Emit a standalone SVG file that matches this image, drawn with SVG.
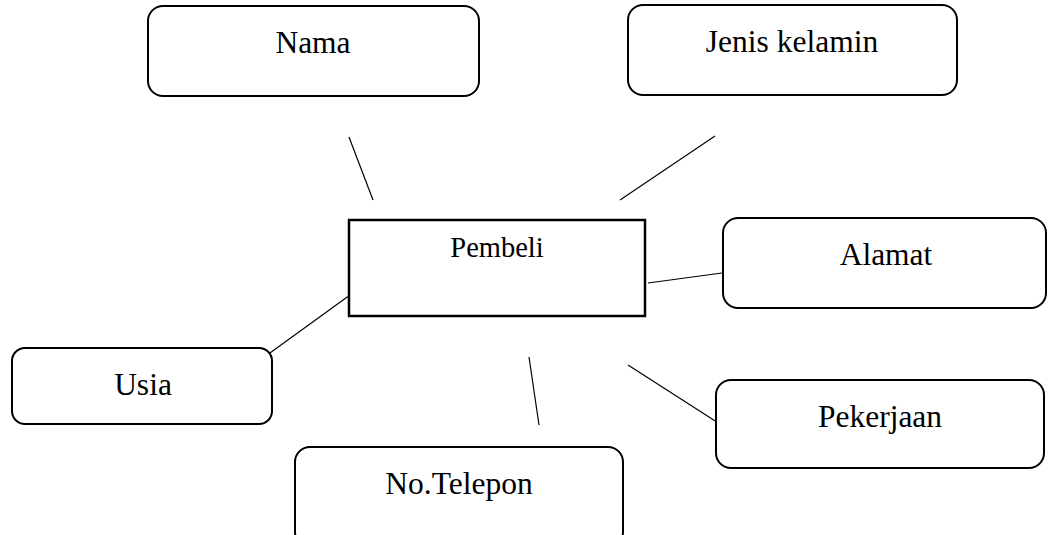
<svg xmlns="http://www.w3.org/2000/svg" width="1048" height="535" viewBox="0 0 1048 535">
  <style>
    .attr { fill: #fff; stroke: #000; stroke-width: 2; }
    .entity { fill: #fff; stroke: #000; stroke-width: 2.5; }
    .label { font-family: "Liberation Serif", "Times New Roman", serif; font-size: 31.5px; fill: #000; text-anchor: middle; }
    .elabel { font-family: "Liberation Serif", "Times New Roman", serif; font-size: 28.5px; fill: #000; text-anchor: middle; }
    .link { stroke: #000; stroke-width: 1.2; fill: none; }
  </style>
  <rect width="1048" height="535" fill="#fff"/>

  <g id="connectors">
    <line class="link" x1="349" y1="137" x2="373" y2="200"/>
    <line class="link" x1="715" y1="136" x2="620" y2="200"/>
    <line class="link" x1="648" y1="283" x2="722" y2="273"/>
    <line class="link" x1="628" y1="365" x2="723" y2="426"/>
    <line class="link" x1="350" y1="295" x2="263" y2="358"/>
    <line class="link" x1="529" y1="357" x2="539" y2="425"/>
  </g>

  <g id="pembeli">
    <rect class="entity" x="349" y="220" width="296" height="96"/>
    <text class="elabel" x="497" y="257">Pembeli</text>
  </g>

  <g id="nama">
    <rect class="attr" x="148" y="6" width="331" height="90" rx="15"/>
    <text class="label" x="313" y="53">Nama</text>
  </g>

  <g id="jenis-kelamin">
    <rect class="attr" x="628" y="5" width="329" height="90" rx="15"/>
    <text class="label" x="792" y="52">Jenis kelamin</text>
  </g>

  <g id="alamat">
    <rect class="attr" x="723" y="218" width="323" height="90" rx="15"/>
    <text class="label" x="886" y="265">Alamat</text>
  </g>

  <g id="pekerjaan">
    <rect class="attr" x="716" y="380" width="328" height="88" rx="15"/>
    <text class="label" x="880" y="427">Pekerjaan</text>
  </g>

  <g id="usia">
    <rect class="attr" x="12" y="348" width="260" height="76" rx="13"/>
    <text class="label" x="143" y="395">Usia</text>
  </g>

  <g id="no-telepon">
    <rect class="attr" x="295" y="447" width="328" height="100" rx="15"/>
    <text class="label" x="459" y="494">No.Telepon</text>
  </g>
</svg>
